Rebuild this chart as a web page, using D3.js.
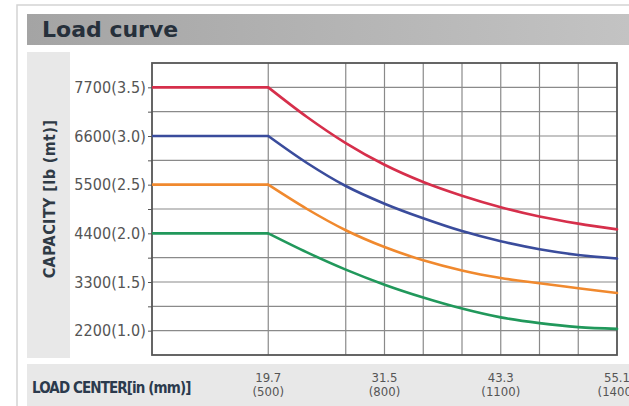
<!DOCTYPE html>
<html lang="en">
<head>
<meta charset="UTF-8">
<title>Load curve</title>
<script src="https://cdn.jsdelivr.net/npm/d3@7"></script>
<style>
  body { margin: 0; padding: 0; background: #fff; }
  svg { display: block; }
  .cond { font-family: 'DejaVu Sans Condensed', 'DejaVu Sans', sans-serif; font-stretch: condensed; }
</style>
</head>
<body>
<svg id="chart" width="629" height="406"></svg>

<script>
// load center in mm, and the inch values used for the bottom labels
var loadCenterMm = [200, 500, 600, 700, 800, 900, 1000, 1100, 1200, 1300, 1400];
var xTickMm = [500, 800, 1100, 1400];
var xTickIn = ["19.7", "31.5", "43.3", "55.1"];

// capacity in lb for each rated model
var cap35 = [7700, 7700, 7030, 6440, 5950, 5560, 5250, 4990, 4780, 4620, 4490];
var cap30 = [6600, 6600, 5990, 5470, 5070, 4740, 4450, 4220, 4040, 3910, 3830];
var cap25 = [5500, 5500, 4950, 4470, 4090, 3790, 3560, 3390, 3270, 3160, 3050];
var cap20 = [4400, 4400, 3970, 3580, 3240, 2950, 2700, 2500, 2370, 2280, 2240];

var yTickLb = [2200, 3300, 4400, 5500, 6600, 7700];
var yTickLabels = ["2200(1.0)", "3300(1.5)", "4400(2.0)", "5500(2.5)", "6600(3.0)", "7700(3.5)"];

var series = [
  { name: "3.5", values: cap35, color: "#d62f4b" },
  { name: "3.0", values: cap30, color: "#3a4c9c" },
  { name: "2.5", values: cap25, color: "#f0892e" },
  { name: "2.0", values: cap20, color: "#21985b" }
];

var svg = d3.select("#chart");

var x = d3.scaleLinear().domain([200, 1400]).range([152, 617]);
var y = d3.scaleLinear().domain([1650, 8250]).range([355, 63]);

// outer frame
svg.append("rect")
  .attr("x", 17).attr("y", 5)
  .attr("width", 640).attr("height", 420)
  .attr("fill", "none").attr("stroke", "#d4d4d4").attr("stroke-width", 1.5);

// title bar
var grad = svg.append("defs").append("linearGradient").attr("id", "bar");
grad.append("stop").attr("offset", "0%").attr("stop-color", "#a4a4a4");
grad.append("stop").attr("offset", "100%").attr("stop-color", "#c3c3c3");

svg.append("rect")
  .attr("x", 27).attr("y", 14)
  .attr("width", 602).attr("height", 31)
  .attr("fill", "url(#bar)");

svg.append("text")
  .attr("x", 42).attr("y", 37)
  .style("font-family", "DejaVu Sans")
  .style("font-weight", "bold")
  .style("font-size", "22px")
  .attr("fill", "#26303b")
  .text("Load curve");

// grey label bands
svg.append("rect")
  .attr("x", 27).attr("y", 52)
  .attr("width", 43).attr("height", 306)
  .attr("fill", "#e8e8e8");

svg.append("rect")
  .attr("x", 27).attr("y", 364)
  .attr("width", 602).attr("height", 42)
  .attr("fill", "#e8e8e8");

svg.append("text")
  .attr("class", "cond")
  .attr("transform", "translate(55,199)rotate(-90)")
  .attr("text-anchor", "middle")
  .style("font-weight", "bold")
  .style("font-size", "16px")
  .style("letter-spacing", "0.4px")
  .attr("fill", "#2f3a45")
  .text("CAPACITY [lb (mt)]");

svg.append("text")
  .attr("class", "cond")
  .attr("x", 32).attr("y", 393)
  .style("font-weight", "bold")
  .style("font-size", "15px")
  .style("letter-spacing", "-0.9px")
  .attr("fill", "#2b3a4d")
  .text("LOAD CENTER[in (mm)]");

// plot background
svg.append("rect")
  .attr("x", x(200)).attr("y", y(8250))
  .attr("width", x(1400) - x(200)).attr("height", y(1650) - y(8250))
  .attr("fill", "#fff");

// grid
var gridX = [500, 700, 800, 900, 1000, 1100, 1200, 1300];
var gridY = d3.range(2200, 7701, 550);

svg.append("g").selectAll("line")
  .data(gridX)
  .enter().append("line")
  .attr("x1", function(d) { return x(d); })
  .attr("x2", function(d) { return x(d); })
  .attr("y1", y(8250)).attr("y2", y(1650))
  .attr("stroke", "#8a8a8a").attr("stroke-width", 1.2);

svg.append("g").selectAll("line")
  .data(gridY)
  .enter().append("line")
  .attr("x1", x(200)).attr("x2", x(1400))
  .attr("y1", function(d) { return y(d); })
  .attr("y2", function(d) { return y(d); })
  .attr("stroke", "#8a8a8a").attr("stroke-width", 1.2);

// left axis with short ticks at every grid line
var yAxis = svg.append("g")
  .attr("transform", "translate(" + x(200) + ",0)")
  .call(d3.axisLeft(y).tickValues(gridY).tickSize(4).tickPadding(2)
    .tickFormat(function(d) {
      var i = yTickLb.indexOf(d);
      return i < 0 ? "" : yTickLabels[i];
    }));
yAxis.select(".domain").remove();
yAxis.selectAll("line").attr("stroke", "#555");
yAxis.selectAll("text")
  .attr("class", "cond")
  .style("font-size", "16px")
  .style("letter-spacing", "0.1px")
  .attr("fill", "#555");

// frame of the plot
svg.append("rect")
  .attr("x", x(200)).attr("y", y(8250))
  .attr("width", x(1400) - x(200)).attr("height", y(1650) - y(8250))
  .attr("fill", "none").attr("stroke", "#555").attr("stroke-width", 1.8);

// curves: flat part straight, falling part smooth
var flat = d3.line()
  .x(function(d) { return x(d[0]); })
  .y(function(d) { return y(d[1]); });

var fall = d3.line()
  .x(function(d) { return x(d[0]); })
  .y(function(d) { return y(d[1]); })
  .curve(d3.curveMonotoneX);

series.forEach(function(s) {
  var pts = loadCenterMm.map(function(m, i) { return [m, s.values[i]]; });
  svg.append("path")
    .attr("d", flat(pts.slice(0, 2)))
    .attr("fill", "none").attr("stroke", s.color).attr("stroke-width", 2.6);
  svg.append("path")
    .attr("d", fall(pts.slice(1)))
    .attr("fill", "none").attr("stroke", s.color).attr("stroke-width", 2.6)
    .attr("stroke-linecap", "round");
});

// bottom tick labels: inch over (mm)
var xl = svg.append("g").selectAll("g")
  .data(xTickMm)
  .enter().append("g")
  .attr("transform", function(d) { return "translate(" + x(d) + ",0)"; });

xl.append("text")
  .attr("class", "cond")
  .attr("y", 382)
  .attr("text-anchor", "middle")
  .style("font-size", "13px")
  .attr("fill", "#555")
  .text(function(d, i) { return xTickIn[i]; });

xl.append("text")
  .attr("class", "cond")
  .attr("y", 396)
  .attr("text-anchor", "middle")
  .style("font-size", "13px")
  .attr("fill", "#555")
  .text(function(d) { return "(" + d + ")"; });
</script>
</body>
</html>
